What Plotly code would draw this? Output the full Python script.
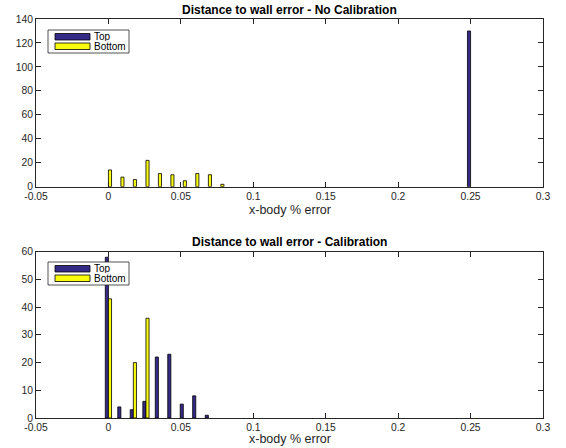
import plotly.graph_objects as go

# ---- data ----
bins = [0.0, 0.0086, 0.0172, 0.0259, 0.0345, 0.0431, 0.0517, 0.0603, 0.069, 0.0776]

# Top subplot: No Calibration
nocal_top_x = [0.25]
nocal_top_y = [130]
nocal_bottom_x = bins
nocal_bottom_y = [14, 8, 6, 22, 11, 10, 5, 11, 10, 2]

# Bottom subplot: Calibration
cal_top_x = bins[:9]
cal_top_y = [58, 4, 3, 6, 22, 23, 5, 8, 1]
cal_bottom_x = [0.0, 0.0172, 0.0259]
cal_bottom_y = [43, 20, 36]

x_ticks = [-0.05, 0, 0.05, 0.1, 0.15, 0.2, 0.25, 0.3]
x_ticktext = ["-0.05", "0", "0.05", "0.1", "0.15", "0.2", "0.25", "0.3"]
titles = ["Distance to wall error - No Calibration", "Distance to wall error - Calibration"]
xlabel = "x-body % error"
series_names = ["Top", "Bottom"]

BLUE = "rgb(53,42,135)"
YELLOW = "rgb(249,251,14)"
AX = "#262626"
FONT = "Liberation Sans, Arial, Helvetica, sans-serif"

W, H = 566, 448
L, R, T, B = 36, 23, 19, 30
PW = W - L - R
PH = H - T - B


def px(x):
    return (x - L) / PW


def py(y):
    return (H - B - y) / PH


fig = go.Figure()
bar_line = dict(color="black", width=0.8)
fig.add_trace(go.Bar(x=nocal_top_x, y=nocal_top_y, name=series_names[0], marker=dict(color=BLUE, line=bar_line),
                     xaxis="x", yaxis="y", offsetgroup="a", showlegend=False))
fig.add_trace(go.Bar(x=nocal_bottom_x, y=nocal_bottom_y, name=series_names[1], marker=dict(color=YELLOW, line=bar_line),
                     xaxis="x", yaxis="y", offsetgroup="b", showlegend=False))
fig.add_trace(go.Bar(x=cal_top_x, y=cal_top_y, name=series_names[0], marker=dict(color=BLUE, line=bar_line),
                     xaxis="x2", yaxis="y2", offsetgroup="a", showlegend=False))
fig.add_trace(go.Bar(x=cal_bottom_x, y=cal_bottom_y, name=series_names[1], marker=dict(color=YELLOW, line=bar_line),
                     xaxis="x2", yaxis="y2", offsetgroup="b", showlegend=False))

tickfont = dict(family=FONT, size=10.3, color=AX)
xcommon = dict(range=[-0.05, 0.3], tickvals=x_ticks, ticktext=x_ticktext, ticks="inside", ticklen=5,
               tickcolor=AX, showline=True, linecolor=AX, linewidth=1, mirror="ticks",
               showgrid=False, zeroline=False, tickfont=tickfont, domain=[0, 1])
ycommon = dict(ticks="inside", ticklen=5, tickcolor=AX, showline=True, linecolor=AX, linewidth=1,
               mirror="ticks", showgrid=False, zeroline=False, tickfont=tickfont)

fig.update_layout(
    width=W, height=H,
    margin=dict(l=L, r=R, t=T, b=B),
    paper_bgcolor="white", plot_bgcolor="white",
    barmode="group", bargap=0.5, bargroupgap=0,
    showlegend=False,
    font=dict(family=FONT, color=AX),
    xaxis=dict(**xcommon, anchor="y"),
    yaxis=dict(**ycommon, range=[0, 140], tickvals=[0, 20, 40, 60, 80, 100, 120, 140],
               domain=[py(186.7), 1], anchor="x"),
    xaxis2=dict(**xcommon, anchor="y2"),
    yaxis2=dict(**ycommon, range=[0, 60], tickvals=[0, 10, 20, 30, 40, 50, 60],
                domain=[0, py(251.7)], anchor="x2"),
)

annotations = []
shapes = []
for i, (ty, ly, off) in enumerate([(10, 210, 0), (242, 438.5, 232)]):
    annotations.append(dict(text="<b>%s</b>" % titles[i], x=0.5, y=py(ty), xref="paper", yref="paper",
                            xanchor="center", yanchor="middle", showarrow=False,
                            font=dict(family=FONT, size=12, color="black")))
    annotations.append(dict(text=xlabel, x=0.5, y=py(ly), xref="paper", yref="paper",
                            xanchor="center", yanchor="middle", showarrow=False,
                            font=dict(family=FONT, size=12.5, color=AX)))
    # legend box
    shapes.append(dict(type="rect", xref="paper", yref="paper", x0=px(48), x1=px(129),
                       y0=py(30 + off), y1=py(53 + off), fillcolor="white",
                       line=dict(color=AX, width=0.8), layer="above"))
    for j, (color, y0, y1, ty2) in enumerate([(BLUE, 33.5, 40, 36.8), (YELLOW, 43, 49.5, 46.2)]):
        shapes.append(dict(type="rect", xref="paper", yref="paper", x0=px(55), x1=px(90),
                           y0=py(y0 + off), y1=py(y1 + off), fillcolor=color,
                           line=dict(color="black", width=0.8), layer="above"))
        annotations.append(dict(text=series_names[j], x=px(93), y=py(ty2 + off), xref="paper", yref="paper",
                                xanchor="left", yanchor="middle", showarrow=False,
                                font=dict(family=FONT, size=10, color="black"),
                                height=9, valign="middle", borderpad=0))

fig.update_layout(annotations=annotations, shapes=shapes)
fig.write_html("out.html", config={"displayModeBar": False, "staticPlot": True},
               post_script="document.body.style.margin='0px';document.body.style.overflow='hidden';")
